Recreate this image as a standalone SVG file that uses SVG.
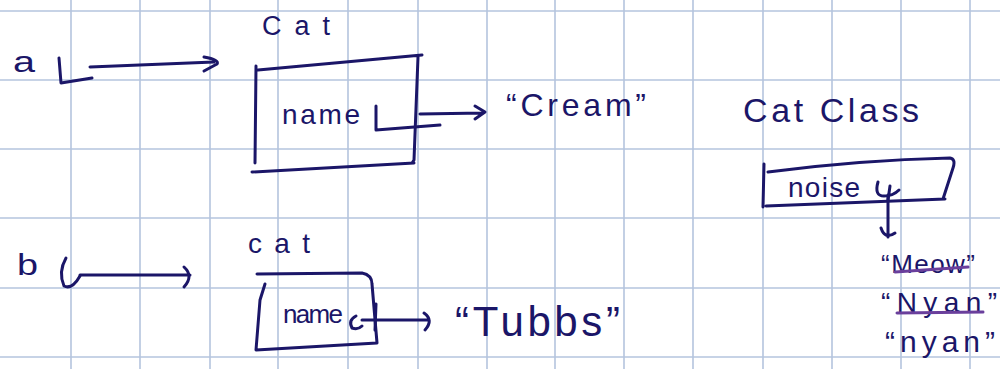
<svg xmlns="http://www.w3.org/2000/svg" width="1000" height="369" viewBox="0 0 1000 369">
<defs>
<style>
.grid line{stroke:#b4c4de;stroke-width:1.6}
.ink{fill:none;stroke:#1b1668;stroke-width:3;stroke-linecap:round;stroke-linejoin:round}
.t{fill:#1b1668;font-family:"Liberation Sans","DejaVu Sans",sans-serif}
.strike{stroke:#6a3f9c;stroke-width:3;stroke-linecap:round;fill:none}
</style>
</defs>
<rect width="1000" height="369" fill="#ffffff"/>
<g class="grid">
<line x1="71" y1="0" x2="71" y2="369"/><line x1="140" y1="0" x2="140" y2="369"/><line x1="210" y1="0" x2="210" y2="369"/><line x1="278" y1="0" x2="278" y2="369"/><line x1="348" y1="0" x2="348" y2="369"/><line x1="418" y1="0" x2="418" y2="369"/><line x1="487" y1="0" x2="487" y2="369"/><line x1="555" y1="0" x2="555" y2="369"/><line x1="624" y1="0" x2="624" y2="369"/><line x1="693" y1="0" x2="693" y2="369"/><line x1="763" y1="0" x2="763" y2="369"/><line x1="832" y1="0" x2="832" y2="369"/><line x1="901" y1="0" x2="901" y2="369"/><line x1="970" y1="0" x2="970" y2="369"/>
<line x1="0" y1="11" x2="1000" y2="11"/><line x1="0" y1="80" x2="1000" y2="80"/><line x1="0" y1="149" x2="1000" y2="149"/><line x1="0" y1="218" x2="1000" y2="218"/><line x1="0" y1="288" x2="1000" y2="288"/><line x1="0" y1="357" x2="1000" y2="357"/>
</g>

<g id="var-a">
<text class="t" x="13" y="72" font-size="30" textLength="22" lengthAdjust="spacingAndGlyphs">a</text>
<path class="ink" d="M59 58 L61 83 L92 78"/>
</g>

<g id="cat-a">
<text class="t" x="262" y="35" font-size="27" textLength="68" lengthAdjust="spacing">Cat</text>
<path class="ink" d="M256 66 L255 163 M258 70 L422 55 M418 57 L414 160 L412 163 M252 172 L414 163"/>
<text class="t" x="282" y="124" font-size="28" textLength="78" lengthAdjust="spacing">name</text>
<path class="ink" d="M376 106 L376 130 L440 125"/>
</g>

<g id="str-cream">
<text class="t" x="506" y="116" font-size="32" textLength="140" lengthAdjust="spacing">“Cream”</text>
</g>

<g id="cat-class">
<text class="t" x="743" y="122" font-size="34" textLength="176" lengthAdjust="spacing">Cat Class</text>
<path class="ink" d="M764 164 L763 207 M768 172 Q860 160 950 158 Q956 159 953 168 L943 199 M766 206 L945 199"/>
<text class="t" x="788" y="197" font-size="28" textLength="72" lengthAdjust="spacing">noise</text>
<path class="ink" d="M878 182 Q874 196 884 196 Q893 196 899 190 M890 186 L888 200"/>
</g>

<g id="noise-values">
<text class="t" x="881" y="273" font-size="26" textLength="94" lengthAdjust="spacing">“Meow”</text>
<path class="strike" d="M895 272 L968 267"/>
<text class="t" x="881" y="312" font-size="28" textLength="116" lengthAdjust="spacing">“Nyan”</text>
<path class="strike" d="M897 313 L983 312"/>
<text class="t" x="885" y="352" font-size="30" textLength="110" lengthAdjust="spacing">“nyan”</text>
</g>

<g id="var-b">
<text class="t" x="17" y="275" font-size="30" textLength="21" lengthAdjust="spacingAndGlyphs">b</text>
<path class="ink" d="M66 258 Q58 272 64 286 Q72 290 80 276"/>
</g>

<g id="cat-b">
<text class="t" x="248" y="253" font-size="28" textLength="62" lengthAdjust="spacing">cat</text>
<path class="ink" d="M257 274 L362 273 Q372 275 372 284 L377 343 L256 350 L260 300 L265 284"/>
<text class="t" x="283" y="323" font-size="26" textLength="60" lengthAdjust="spacing">name</text>
<path class="ink" d="M356 316 Q348 320 352 328 Q358 330 362 326 M376 304 L375 330"/>
</g>

<g id="str-tubbs">
<text class="t" x="455" y="336" font-size="42" textLength="165" lengthAdjust="spacing">“Tubbs”</text>
</g>

<g id="connectors">
<path class="ink" d="M90 67 L214 62 M204 57 Q220 60 217 64 L204 71"/>
<path class="ink" d="M420 114 L483 113 M475 106 L485 112 L475 119"/>
<path class="ink" d="M888 195 L888 237 M881 228 Q885 240 895 233"/>
<path class="ink" d="M80 275 L190 275 M184 267 Q194 276 184 287"/>
<path class="ink" d="M362 320 L428 320 M424 313 Q434 320 425 330"/>
</g>
</svg>
